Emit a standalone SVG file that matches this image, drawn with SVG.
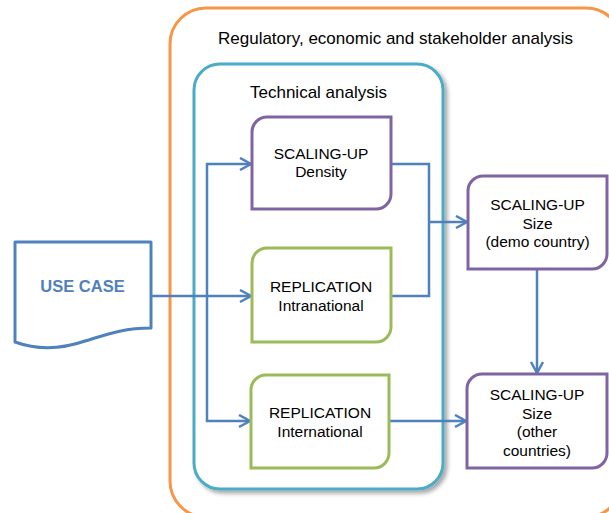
<svg xmlns="http://www.w3.org/2000/svg" width="609" height="513" viewBox="0 0 609 513">
  <style>
    .t { font-family: "Liberation Sans", Arial, sans-serif; fill: #000; text-anchor: middle; }
    .title { font-size: 17px; }
    .lbl { font-size: 15.5px; }
    .uc { font-family: "Liberation Sans", Arial, sans-serif; font-size: 16.5px; font-weight: bold; fill: #4F81BD; text-anchor: middle; }
    .purple { fill: #fff; stroke: #8064A2; stroke-width: 3; }
    .green { fill: #fff; stroke: #9BBB59; stroke-width: 3; }
    .conn { fill: none; stroke: #4F81BD; stroke-width: 2.5; stroke-linejoin: miter; }
  </style>
  <defs>
    <marker id="arr" markerUnits="userSpaceOnUse" markerWidth="16" markerHeight="16" refX="12" refY="7" orient="auto-start-reverse">
      <path d="M1,1 L12,7 L1,13" fill="none" stroke="#4F81BD" stroke-width="2.5"/>
    </marker>
    <filter id="sh" x="-10%" y="-10%" width="130%" height="130%">
      <feDropShadow dx="3" dy="3" stdDeviation="2" flood-color="#000" flood-opacity="0.35"/>
    </filter>
  </defs>
  <rect width="609" height="513" fill="#fff"/>

  <g id="regulatory">
    <rect x="170" y="8" width="452" height="509" rx="36" ry="36" fill="#fff" stroke="#F79646" stroke-width="3"/>
    <text class="t title" x="395.5" y="44">Regulatory, economic and stakeholder analysis</text>
  </g>

  <g id="technical">
    <rect x="194" y="64" width="249" height="425" rx="26" ry="26" fill="#fff" stroke="#4BACC6" stroke-width="3" filter="url(#sh)"/>
    <text class="t title" x="318.5" y="98">Technical analysis</text>
  </g>

  <g id="connectors">
    <path class="conn" d="M151,296 H251" marker-end="url(#arr)"/>
    <path class="conn" d="M251,164 H207 V421 H250" marker-start="url(#arr)" marker-end="url(#arr)"/>
    <path class="conn" d="M391,164 H429 V296 H391"/>
    <path class="conn" d="M429,222 H467" marker-end="url(#arr)"/>
    <path class="conn" d="M537,269 V373" marker-end="url(#arr)"/>
    <path class="conn" d="M389,421 H466" marker-end="url(#arr)"/>
  </g>

  <g id="usecase">
    <path d="M15,242 H151 V328 C122,328 105,335 85,341 C62,349 40,351 15,342 Z" fill="#fff" stroke="#4F81BD" stroke-width="3" stroke-linejoin="round"/>
    <text class="uc" x="82.5" y="292">USE CASE</text>
  </g>

  <g id="density">
    <path class="purple" d="M252,132 A15,15 0 0 1 267,117 H391 V194 A15,15 0 0 1 376,209 H252 Z"/>
    <text class="t lbl" x="321" y="159">SCALING-UP</text>
    <text class="t lbl" x="321" y="177">Density</text>
  </g>

  <g id="intranational">
    <path class="green" d="M252,263 A15,15 0 0 1 267,248 H391 V327 A15,15 0 0 1 376,342 H252 Z"/>
    <text class="t lbl" x="321" y="292">REPLICATION</text>
    <text class="t lbl" x="321" y="311">Intranational</text>
  </g>

  <g id="international">
    <path class="green" d="M251,390 A15,15 0 0 1 266,375 H389 V453 A15,15 0 0 1 374,468 H251 Z"/>
    <text class="t lbl" x="320" y="418">REPLICATION</text>
    <text class="t lbl" x="320" y="437">International</text>
  </g>

  <g id="size-demo">
    <path class="purple" d="M468,191 A15,15 0 0 1 483,176 H607 V254 A15,15 0 0 1 592,269 H468 Z"/>
    <text class="t lbl" x="537.5" y="210">SCALING-UP</text>
    <text class="t lbl" x="537.5" y="229">Size</text>
    <text class="t lbl" x="537.5" y="247">(demo country)</text>
  </g>

  <g id="size-other">
    <path class="purple" d="M467,389 A15,15 0 0 1 482,374 H607 V453 A15,15 0 0 1 592,468 H467 Z"/>
    <text class="t lbl" x="537" y="400">SCALING-UP</text>
    <text class="t lbl" x="537" y="419">Size</text>
    <text class="t lbl" x="537" y="437">(other</text>
    <text class="t lbl" x="537" y="456">countries)</text>
  </g>
</svg>
